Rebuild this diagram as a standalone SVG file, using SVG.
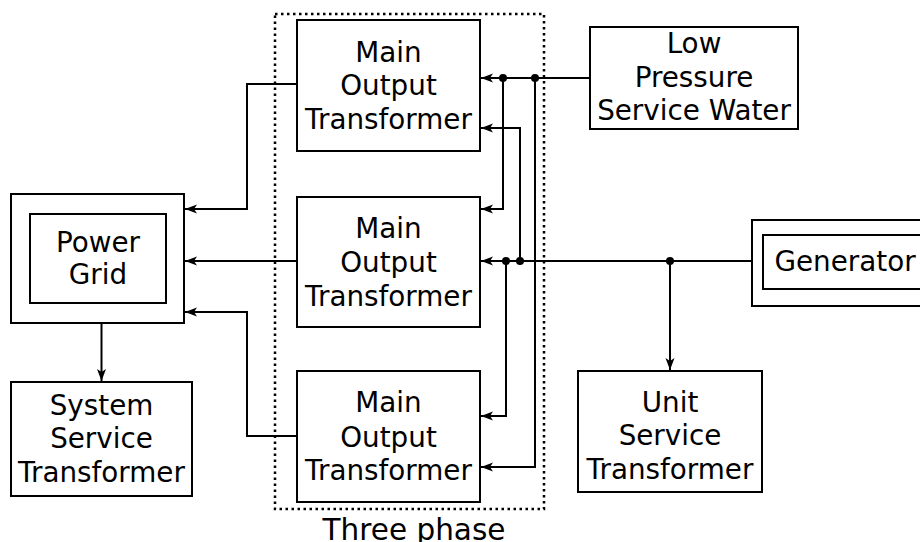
<svg xmlns="http://www.w3.org/2000/svg" width="920" height="542" viewBox="0 0 920 542">
<defs>
<style>
.box{fill:#fff;stroke:#000;stroke-width:2}
.t{font-family:"DejaVu Sans","Liberation Sans",sans-serif;font-size:27.8px;fill:#000;text-anchor:middle}
.c{fill:none;stroke:#000;stroke-width:2}
.dot{fill:#000}
</style>
<marker id="arr" markerWidth="13" markerHeight="10" refX="12" refY="4.5" orient="auto" markerUnits="userSpaceOnUse">
<path d="M0,0 L12,4.5 L0,9 L3,4.5 z" fill="#000"/>
</marker>
</defs>
<rect width="920" height="542" fill="#fff"/>
<g id="three-phase">
<rect x="275" y="14" width="269" height="495" fill="none" stroke="#000" stroke-width="2.5" stroke-dasharray="2.5 3.5"/>
<text class="t" x="414" y="539.5" style="font-size:29.5px">Three phase</text>
</g>
<g id="mot1">
<rect class="box" x="297" y="20" width="183" height="131"/>
<text class="t" x="388.5" y="61.5">Main</text>
<text class="t" x="388.5" y="95">Output</text>
<text class="t" x="388.5" y="128.5">Transformer</text>
</g>
<g id="mot2">
<rect class="box" x="297" y="197" width="183" height="130"/>
<text class="t" x="388.5" y="237.5">Main</text>
<text class="t" x="388.5" y="271.5">Output</text>
<text class="t" x="388.5" y="305.5">Transformer</text>
</g>
<g id="mot3">
<rect class="box" x="297" y="371" width="183" height="131"/>
<text class="t" x="388.5" y="412">Main</text>
<text class="t" x="388.5" y="446.5">Output</text>
<text class="t" x="388.5" y="480">Transformer</text>
</g>
<g id="lpsw">
<rect class="box" x="590" y="27" width="208" height="102"/>
<text class="t" x="694" y="53">Low</text>
<text class="t" x="694" y="86.5">Pressure</text>
<text class="t" x="694" y="120">Service Water</text>
</g>
<g id="power-grid">
<rect class="box" x="11" y="194" width="173" height="129"/>
<rect class="box" x="30" y="214" width="136" height="89"/>
<text class="t" x="98" y="252">Power</text>
<text class="t" x="98" y="284">Grid</text>
</g>
<g id="sst">
<rect class="box" x="11" y="382" width="181" height="114"/>
<text class="t" x="101.5" y="415">System</text>
<text class="t" x="101.5" y="448">Service</text>
<text class="t" x="101.5" y="482">Transformer</text>
</g>
<g id="ust">
<rect class="box" x="578" y="371" width="184" height="121"/>
<text class="t" x="670" y="411.5">Unit</text>
<text class="t" x="670" y="445">Service</text>
<text class="t" x="670" y="479">Transformer</text>
</g>
<g id="generator">
<rect class="box" x="752" y="220" width="200" height="86"/>
<rect class="box" x="763" y="235" width="180" height="54"/>
<text class="t" x="845" y="271">Generator</text>
</g>
<g id="connectors">
<path class="c" d="M590,78 H481" marker-end="url(#arr)"/>
<path class="c" d="M503,78 V209 H481" marker-end="url(#arr)"/>
<path class="c" d="M535,78 V467 H481" marker-end="url(#arr)"/>
<path class="c" d="M752,261 H481" marker-end="url(#arr)"/>
<path class="c" d="M520,261 V128 H481" marker-end="url(#arr)"/>
<path class="c" d="M506,261 V416 H481" marker-end="url(#arr)"/>
<path class="c" d="M670,261 V370" marker-end="url(#arr)"/>
<path class="c" d="M297,84 H247 V209 H185" marker-end="url(#arr)"/>
<path class="c" d="M297,261 H185" marker-end="url(#arr)"/>
<path class="c" d="M297,436 H247 V312 H185" marker-end="url(#arr)"/>
<path class="c" d="M101.5,323 V381" marker-end="url(#arr)"/>
<circle class="dot" cx="503" cy="78" r="4"/>
<circle class="dot" cx="535" cy="78" r="4"/>
<circle class="dot" cx="670" cy="261" r="4"/>
<circle class="dot" cx="520" cy="261" r="4"/>
<circle class="dot" cx="506" cy="261" r="4"/>
</g>
</svg>
